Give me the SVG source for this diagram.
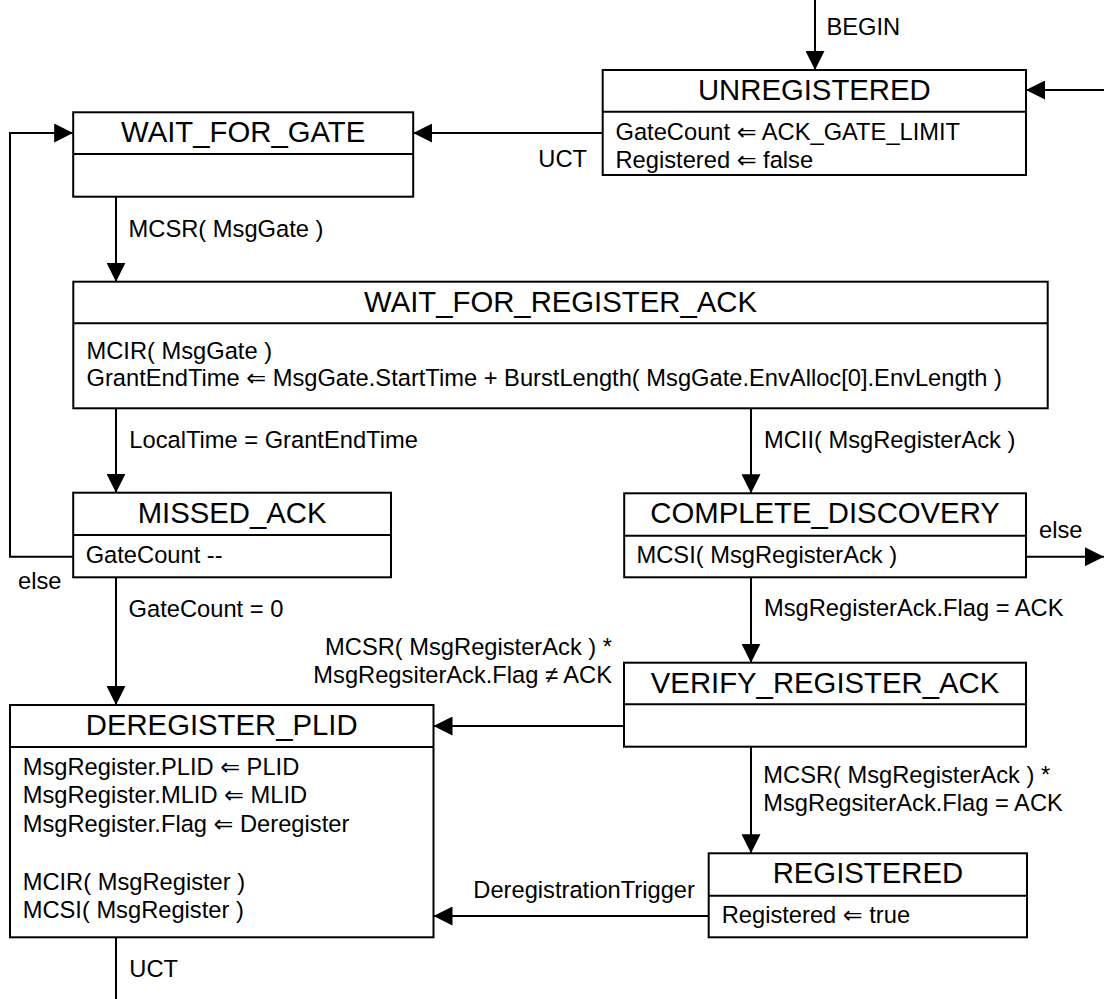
<svg xmlns="http://www.w3.org/2000/svg" width="1104" height="999" viewBox="0 0 1104 999">
<style>
  .box { fill: #ffffff; stroke: #000000; stroke-width: 2; }
  .div { stroke: #000000; stroke-width: 2; }
  .title { font-family: "Liberation Sans", Arial, "DejaVu Sans", sans-serif; font-size: 29.3px; text-anchor: middle; fill: #000000; }
  .body { font-family: "Liberation Sans", Arial, "DejaVu Sans", sans-serif; font-size: 23.7px; fill: #000000; }
  .lbl { font-family: "Liberation Sans", Arial, "DejaVu Sans", sans-serif; font-size: 23.7px; fill: #000000; }
  .end { text-anchor: end; }
  .conn { fill: none; stroke: #000000; stroke-width: 2; }
</style>
<defs>
  <marker id="arrow" markerUnits="userSpaceOnUse" markerWidth="19" markerHeight="19" viewBox="0 0 19 19" refX="19" refY="9.5" orient="auto">
    <path d="M0,0 L19,9.5 L0,19 Z" fill="#000000"/>
  </marker>
</defs>
<rect width="1104" height="999" fill="#ffffff"/>

<g id="connectors">
  <path class="conn" d="M815,0 V70" marker-end="url(#arrow)"/>
  <path class="conn" d="M1104,90 H1026" marker-end="url(#arrow)"/>
  <path class="conn" d="M602.7,133 H413.2" marker-end="url(#arrow)"/>
  <path class="conn" d="M116,196.7 V281.7" marker-end="url(#arrow)"/>
  <path class="conn" d="M116,408.3 V492.7" marker-end="url(#arrow)"/>
  <path class="conn" d="M751,408.3 V493.3" marker-end="url(#arrow)"/>
  <path class="conn" d="M73.2,556.7 H10 V133 H73.2" marker-end="url(#arrow)"/>
  <path class="conn" d="M116,577.3 V705" marker-end="url(#arrow)"/>
  <path class="conn" d="M1026,556.7 H1104" marker-end="url(#arrow)"/>
  <path class="conn" d="M751,577.3 V662.7" marker-end="url(#arrow)"/>
  <path class="conn" d="M624,726 H433.5" marker-end="url(#arrow)"/>
  <path class="conn" d="M751,746.7 V853.3" marker-end="url(#arrow)"/>
  <path class="conn" d="M708.7,916 H433.5" marker-end="url(#arrow)"/>
  <path class="conn" d="M116,937.3 V999"/>
  <text class="lbl" x="826.5" y="35">BEGIN</text>
  <text class="lbl end" x="587" y="166.7">UCT</text>
  <text class="lbl" x="128.6" y="236.7">MCSR( MsgGate )</text>
  <text class="lbl" x="129.3" y="448.3">LocalTime = GrantEndTime</text>
  <text class="lbl" x="764" y="448.3">MCII( MsgRegisterAck )</text>
  <text class="lbl" x="18" y="589">else</text>
  <text class="lbl" x="1039" y="538">else</text>
  <text class="lbl" x="128.6" y="616.7">GateCount = 0</text>
  <text class="lbl" x="764" y="616">MsgRegisterAck.Flag = ACK</text>
  <text class="lbl end" x="612" y="655">MCSR( MsgRegisterAck ) *</text>
  <text class="lbl end" x="612" y="683">MsgRegsiterAck.Flag ≠ ACK</text>
  <text class="lbl" x="763.3" y="783">MCSR( MsgRegisterAck ) *</text>
  <text class="lbl" x="763.3" y="811">MsgRegsiterAck.Flag = ACK</text>
  <text class="lbl" x="473.3" y="898">DeregistrationTrigger</text>
  <text class="lbl" x="129.3" y="976.7">UCT</text>
</g>

<g id="UNREGISTERED">
  <rect class="box" x="602.7" y="70" width="423.3" height="105"/>
  <line class="div" x1="602.7" y1="111.7" x2="1026" y2="111.7"/>
  <text class="title" x="814.3" y="100">UNREGISTERED</text>
  <text class="body" x="615.5" y="140">GateCount ⇐ ACK_GATE_LIMIT</text>
  <text class="body" x="615.5" y="168.3">Registered ⇐ false</text>
</g>

<g id="WAIT_FOR_GATE">
  <rect class="box" x="73.2" y="112.3" width="340" height="84.4"/>
  <line class="div" x1="73.2" y1="154" x2="413.2" y2="154"/>
  <text class="title" x="243.2" y="141.7">WAIT_FOR_GATE</text>
</g>

<g id="WAIT_FOR_REGISTER_ACK">
  <rect class="box" x="73.3" y="281.7" width="974.4" height="126.6"/>
  <line class="div" x1="73.3" y1="323.3" x2="1047.7" y2="323.3"/>
  <text class="title" x="560.5" y="311.7">WAIT_FOR_REGISTER_ACK</text>
  <text class="body" x="86.5" y="358.5">MCIR( MsgGate )</text>
  <text class="body" x="86.5" y="386">GrantEndTime ⇐ MsgGate.StartTime + BurstLength( MsgGate.EnvAlloc[0].EnvLength )</text>
</g>

<g id="MISSED_ACK">
  <rect class="box" x="73.2" y="492.7" width="317.8" height="84.6"/>
  <line class="div" x1="73.2" y1="535" x2="391" y2="535"/>
  <text class="title" x="232.1" y="522.7">MISSED_ACK</text>
  <text class="body" x="85.7" y="563.3">GateCount --</text>
</g>

<g id="COMPLETE_DISCOVERY">
  <rect class="box" x="624.2" y="493.3" width="401.8" height="84"/>
  <line class="div" x1="624.2" y1="535.7" x2="1026" y2="535.7"/>
  <text class="title" x="825.1" y="523.3">COMPLETE_DISCOVERY</text>
  <text class="body" x="636.5" y="563.3">MCSI( MsgRegisterAck )</text>
</g>

<g id="VERIFY_REGISTER_ACK">
  <rect class="box" x="624" y="662.7" width="402" height="84"/>
  <line class="div" x1="624" y1="704.3" x2="1026" y2="704.3"/>
  <text class="title" x="825" y="693.3">VERIFY_REGISTER_ACK</text>
</g>

<g id="DEREGISTER_PLID">
  <rect class="box" x="10" y="705" width="423.5" height="232.3"/>
  <line class="div" x1="10" y1="747" x2="433.5" y2="747"/>
  <text class="title" x="221.7" y="735">DEREGISTER_PLID</text>
  <text class="body" x="22.7" y="775">MsgRegister.PLID ⇐ PLID</text>
  <text class="body" x="22.7" y="803.3">MsgRegister.MLID ⇐ MLID</text>
  <text class="body" x="22.7" y="831.7">MsgRegister.Flag ⇐ Deregister</text>
  <text class="body" x="22.7" y="890">MCIR( MsgRegister )</text>
  <text class="body" x="22.7" y="918.3">MCSI( MsgRegister )</text>
</g>

<g id="REGISTERED">
  <rect class="box" x="708.7" y="853.3" width="318.3" height="84"/>
  <line class="div" x1="708.7" y1="895.7" x2="1027" y2="895.7"/>
  <text class="title" x="867.9" y="883.3">REGISTERED</text>
  <text class="body" x="721.7" y="923.3">Registered ⇐ true</text>
</g>
</svg>
